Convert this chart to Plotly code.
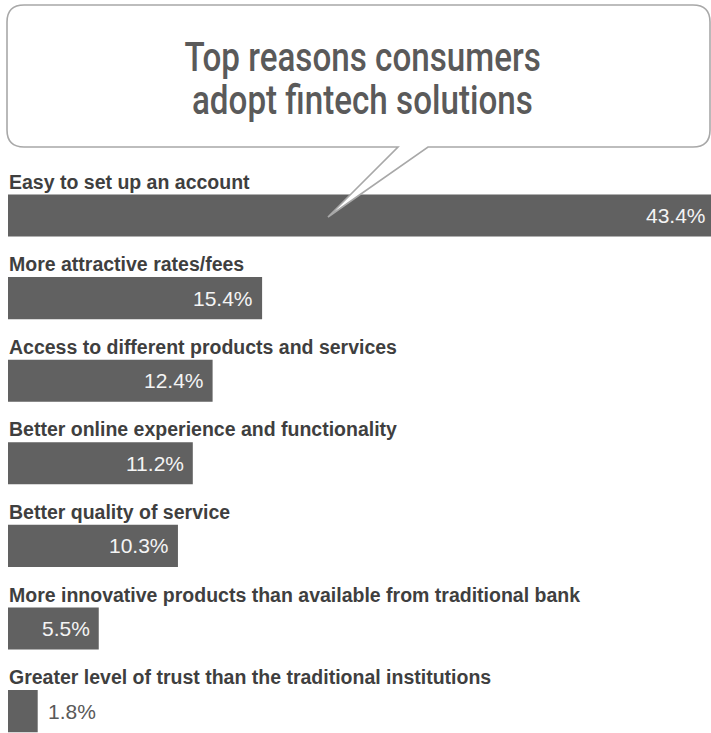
import plotly.graph_objects as go

# Survey results: share of respondents citing each reason
reasons = [
    "Easy to set up an account",
    "More attractive rates/fees",
    "Access to different products and services",
    "Better online experience and functionality",
    "Better quality of service",
    "More innovative products than available from traditional bank",
    "Greater level of trust than the traditional institutions",
]
shares = [43.4, 15.4, 12.4, 11.2, 10.3, 5.5, 1.8]
title_lines = ["Top reasons consumers", "adopt fintech solutions"]

W, H = 711, 733
ML, MT = 8, 150           # plot-area offsets in pixels
PLOT_W, PLOT_H = W - ML, H - MT
PX_PER_PCT = 16.5         # horizontal scale
ROW_PX = 82.6             # vertical distance between rows
FIRST_ROW_PX = 215.5      # centre of the first bar

x_max = PLOT_W / PX_PER_PCT
y_top = -(FIRST_ROW_PX - MT) / ROW_PX
y_bottom = y_top + PLOT_H / ROW_PX

BAR = "#616161"
LABEL = "#3f3f3f"
TITLE = "#5a5a5a"

positions = list(range(len(reasons)))

fig = go.Figure(go.Bar(
    x=shares,
    y=positions,
    orientation="h",
    width=0.51,
    marker=dict(color=BAR, line=dict(width=0)),
    hoverinfo="skip",
))

# category labels above each bar
for i, name in enumerate(reasons):
    fig.add_annotation(
        x=0, y=i - 0.41, xref="x", yref="y",
        text=name, showarrow=False,
        xanchor="left", yanchor="middle", xshift=-1,
        font=dict(family="Liberation Sans, Arial, sans-serif", size=19.5, color=LABEL,
                  weight="bold"),
    )

# value labels: inside the bar end, or just past it for the short bar.
# A bar running past the right edge gets its label pulled back into view.
for i, v in enumerate(shares):
    inside = v > 3
    xp = min(v / x_max, 1.0)
    shift = -7 if inside else 8
    if inside and v / x_max > 1.0:
        shift = -3
    fig.add_annotation(
        x=xp, y=i, xref="paper", yref="y",
        text=f"{v:.1f}%", showarrow=False,
        xanchor="right" if inside else "left", yanchor="middle",
        xshift=shift,
        font=dict(family="Liberation Sans, Arial, sans-serif", size=21,
                  color="#f4f4f4" if inside else "#595959"),
    )


def px(xp, yp):
    """Convert page pixels to paper coordinates of the plot area."""
    return (xp - ML) / PLOT_W, 1 - (yp - MT) / PLOT_H


def pt(xp, yp):
    a, b = px(xp, yp)
    return f"{a:.5f},{b:.5f}"


# speech bubble with its tail pointing into the first bar
L, R, T, B, r = 7, 710, 5, 147, 17
tail_l, tail_r, tip = 398, 428, (328, 217)
path = (
    f"M {pt(L + r, T)} L {pt(R - r, T)} Q {pt(R, T)} {pt(R, T + r)} "
    f"L {pt(R, B - r)} Q {pt(R, B)} {pt(R - r, B)} "
    f"L {pt(tail_r, B)} L {pt(*tip)} L {pt(tail_l, B)} "
    f"L {pt(L + r, B)} Q {pt(L, B)} {pt(L, B - r)} "
    f"L {pt(L, T + r)} Q {pt(L, T)} {pt(L + r, T)} Z"
)
fig.add_shape(type="path", path=path, xref="paper", yref="paper",
              fillcolor="white", line=dict(color="#a8a8a8", width=1.6),
              layer="above")

for text, yc in zip(title_lines, [58, 100]):
    xa, ya = px(362.5, yc)
    fig.add_annotation(
        x=xa, y=ya, xref="paper", yref="paper", text=text, showarrow=False,
        xanchor="center", yanchor="middle",
        font=dict(family="Roboto, Liberation Sans, sans-serif", weight=500,
                  size=40, color=TITLE),
    )

fig.update_layout(
    width=W, height=H,
    margin=dict(l=ML, r=0, t=MT, b=0, pad=0),
    paper_bgcolor="white", plot_bgcolor="white",
    showlegend=False,
    xaxis=dict(range=[0, x_max], visible=False, fixedrange=True),
    yaxis=dict(range=[y_bottom, y_top], visible=False, fixedrange=True),
)

# narrow the headline glyphs to a condensed width
condense = """
var gd = document.getElementById('{plot_id}');
var titles = %s;
gd.querySelectorAll('text.annotation-text').forEach(function (t) {
  if (titles.indexOf(t.textContent) >= 0) {
    t.style.transformBox = 'fill-box';
    t.style.transformOrigin = 'center';
    t.style.transform = 'scaleX(0.83)';
  }
});
""" % str(title_lines).replace("'", '"')

fig.write_html("out.html", post_script=condense)
